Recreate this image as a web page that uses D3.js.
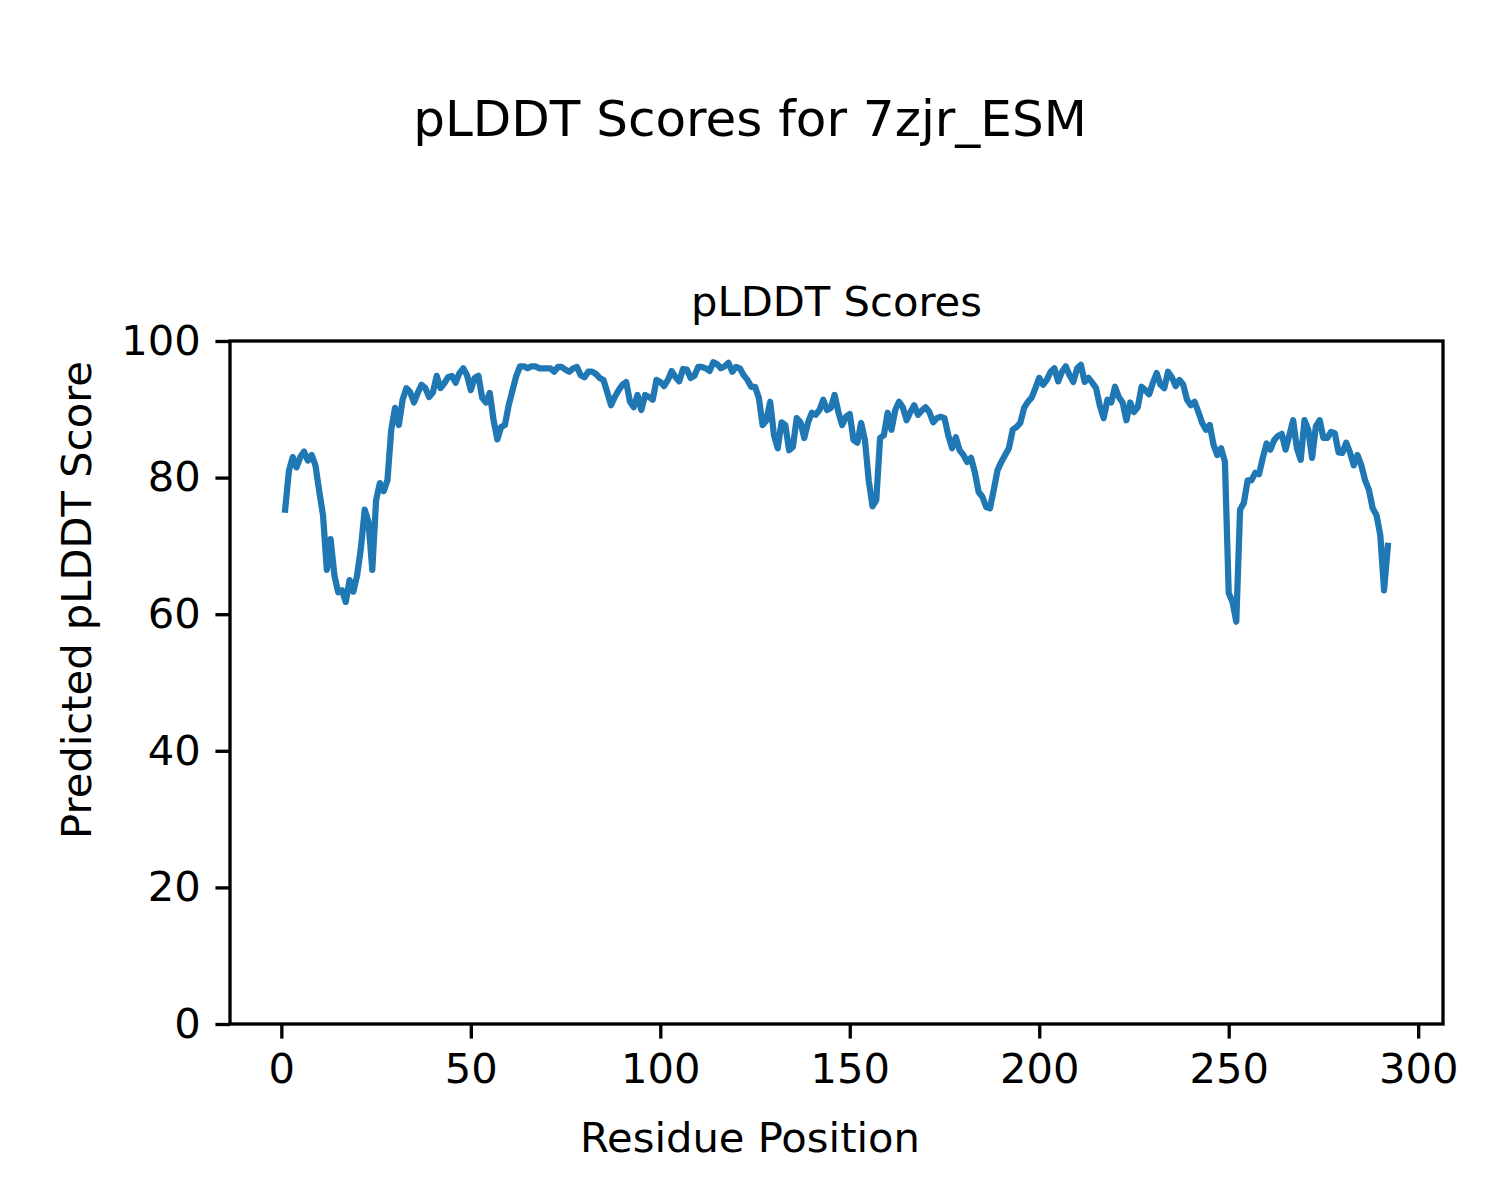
<!DOCTYPE html>
<html>
<head>
<meta charset="utf-8">
<script src="https://cdn.jsdelivr.net/npm/d3@7"></script>
<style>
  html, body { margin: 0; padding: 0; background: #ffffff; }
  svg text { font-family: "DejaVu Sans", sans-serif; fill: #000; }
</style>
</head>
<body>
<svg id="chart" width="1500" height="1200"></svg>
<script>
const figureTitle = "pLDDT Scores for 7zjr_ESM";
const axesTitle = "pLDDT Scores";
const xLabel = "Residue Position";
const yLabel = "Predicted pLDDT Score";
const xTicks = [0, 50, 100, 150, 200, 250, 300];
const yTicks = [0, 20, 40, 60, 80, 100];

const plddt = [
  75.3, 81, 83, 81.5, 83, 83.8, 82.5, 83.3, 81.8, 78,
  74.5, 66.5, 71, 65.7, 63.2, 63.5, 61.8, 65, 63.3, 65.7,
  69.7, 75.3, 73.5, 66.5, 76.7, 79.2, 78, 79.6, 87, 90.2,
  87.7, 91.4, 93.1, 92.5, 91, 92.4, 93.6, 93.1, 91.8, 92.5,
  94.9, 93.1, 93.8, 94.7, 94.9, 93.9, 95.3, 96, 95, 92.8,
  94.6, 94.9, 91.7, 91, 92.4, 88.4, 85.6, 87.4, 87.7, 90.6,
  92.8, 94.9, 96.3, 96.3, 96, 96.3, 96.3, 96, 96, 96,
  96, 95.5, 96.2, 96.2, 95.8, 95.5, 96, 96.2, 95, 94.7,
  95.5, 95.5, 95.2, 94.6, 94.3, 92.5, 90.6, 91.8, 92.8, 93.6,
  94, 91.1, 90.3, 92.1, 89.9, 92.1, 91.8, 91.4, 94.3,
  94, 93.4, 94.3, 95.6, 94.7, 94.1, 95.9, 95.8, 94.6, 94.9,
  96.2, 96.2, 96, 95.6, 96.9, 96.6, 96, 96.3, 96.8, 95.5,
  96.2, 96, 95, 94.3, 93.3, 93.3, 91.7, 87.7, 88.4, 91.1,
  86.2, 84.3, 88.1, 87.7, 84, 84.5, 88.7, 88.1, 85.8, 88.1,
  89.5, 89.2, 89.9, 91.4, 89.9, 90.2, 92.1, 89.6, 87.7, 88.9,
  89.3, 85.5, 85.1, 88, 85.5, 79.6, 75.8, 76.7, 85.8, 86.2,
  89.5, 87, 89.9, 91.1, 90.3, 88.4, 89.6, 90.6, 89.2, 89.8,
  90.3, 89.6, 88.1, 88.7, 88.9, 88.7, 86.2, 84.3, 85.9, 84,
  83.3, 82.3, 82.9, 80.8, 77.9, 77.2, 75.7, 75.5, 78.2, 81.1,
  82.3, 83.3, 84.3, 87, 87.4, 88, 90.2, 91.1, 91.7,
  93.1, 94.6, 93.6, 94.3, 95.5, 96, 94.1, 95.5, 96.3, 95,
  94, 96, 96.5, 94, 94.6, 93.9, 93.1, 90.5, 88.7, 91.4,
  91, 93.3, 91.8, 91, 88.4, 91, 89.6, 90.3, 93.3, 92.8,
  92.2, 93.9, 95.3, 93.6, 93.1, 95.5, 94.7, 93.4, 94.3, 93.6,
  91.4, 90.6, 91.1, 89.6, 88, 87, 87.7, 84.8, 83.3, 84.3,
  82.3, 63.1, 61.8, 58.9, 75.3, 76.3, 79.6, 79.6, 80.7, 80.5,
  82.9, 85, 84.1, 85.5, 86.1, 86.4, 84.1, 86.2, 88.4, 84.3,
  82.6, 88.4, 87, 82.9, 87.5, 88.4, 85.8, 85.8, 86.7,
  86.5, 83.7, 83.6, 85.1, 83.7, 81.8, 83.3, 81.8, 79.6, 78.2,
  75.5, 74.5, 71.6, 63.5, 70
];
const residues = plddt.map((_, i) => i + 1);

(function () {
  const svg = d3.select("#chart");
  const W = 1500, H = 1200;
  const mLeft = 230, mRight = 1443, mTop = 341, mBottom = 1024;
  const pt = 300 / 72;

  const xMin = d3.min(residues), xMax = d3.max(residues);
  const pad = (xMax - xMin) * 0.05;
  const x = d3.scaleLinear().domain([xMin - pad, xMax + pad]).range([mLeft, mRight]);
  const y = d3.scaleLinear().domain([0, 100]).range([mBottom, mTop]);

  const line = d3.line().x((d, i) => x(residues[i])).y(d => y(d));
  svg.append("path")
    .datum(plddt)
    .attr("d", line)
    .attr("fill", "none")
    .attr("stroke", "#1f77b4")
    .attr("stroke-width", 1.5 * pt)
    .attr("stroke-linejoin", "round")
    .attr("stroke-linecap", "square");

  const tickLen = 3.5 * pt;
  const xAxis = d3.axisBottom(x).tickValues(xTicks).tickSize(tickLen).tickSizeOuter(0).tickPadding(3.5 * pt);
  const yAxis = d3.axisLeft(y).tickValues(yTicks).tickSize(tickLen).tickSizeOuter(0).tickPadding(3.5 * pt);

  const gx = svg.append("g").attr("transform", `translate(0,${mBottom})`).call(xAxis);
  const gy = svg.append("g").attr("transform", `translate(${mLeft},0)`).call(yAxis);
  [gx, gy].forEach(g => {
    g.select(".domain").remove();
    g.selectAll(".tick line").attr("stroke", "#000").attr("stroke-width", 0.8 * pt);
    g.selectAll(".tick text").attr("font-size", 10 * pt).attr("font-family", "DejaVu Sans").attr("fill", "#000");
  });

  svg.append("rect")
    .attr("x", mLeft).attr("y", mTop)
    .attr("width", mRight - mLeft).attr("height", mBottom - mTop)
    .attr("fill", "none").attr("stroke", "#000").attr("stroke-width", 0.8 * pt);

  svg.append("text").attr("x", W / 2).attr("y", 136).attr("text-anchor", "middle")
    .attr("font-size", 12 * pt).text(figureTitle);
  svg.append("text").attr("x", (mLeft + mRight) / 2).attr("y", 316).attr("text-anchor", "middle")
    .attr("font-size", 10 * pt).text(axesTitle);
  svg.append("text").attr("x", W / 2).attr("y", 1152).attr("text-anchor", "middle")
    .attr("font-size", 10 * pt).text(xLabel);
  svg.append("text").attr("transform", `translate(91,${H / 2}) rotate(-90)`)
    .attr("text-anchor", "middle").attr("font-size", 10 * pt).text(yLabel);
})();
</script>
</body>
</html>
